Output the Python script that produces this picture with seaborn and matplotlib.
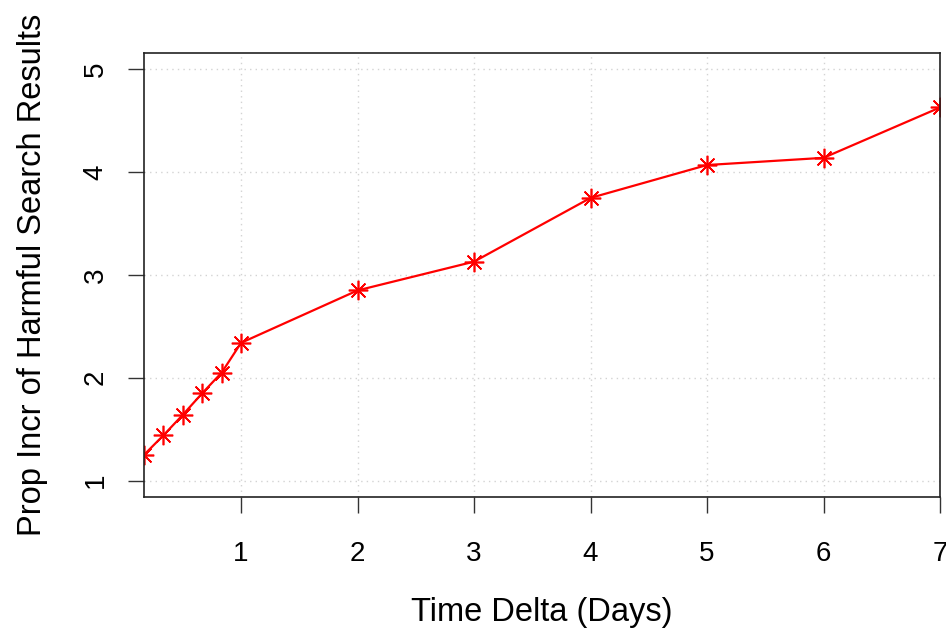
import matplotlib
matplotlib.use("Agg")
import matplotlib.pyplot as plt
import seaborn as sns
import pandas as pd

# Elapsed time since the reference snapshot, in hours
hours = [4, 8, 12, 16, 20, 24, 48, 72, 96, 120, 144, 168]
# Proportional increase of harmful search results at each time delta
prop_incr = [1.25, 1.44, 1.64, 1.85, 2.05, 2.34, 2.85, 3.13, 3.75, 4.07, 4.14, 4.63]

x_ticks = [1, 2, 3, 4, 5, 6, 7]
y_ticks = [1, 2, 3, 4, 5]

df = pd.DataFrame({"days": [h / 24 for h in hours], "incr": prop_incr})

sns.set_style("ticks")
plt.rcParams["font.family"] = ["Liberation Sans", "DejaVu Sans"]
plt.rcParams["text.color"] = "black"
plt.rcParams["axes.labelcolor"] = "black"

W, H = 946, 630
fig = plt.figure(figsize=(W / 100, H / 100), dpi=100)
ax = fig.add_axes([144 / W, 1 - 497 / H, (940 - 144) / W, (497 - 53) / H])

sns.lineplot(
    data=df, x="days", y="incr", ax=ax,
    color="red", linewidth=1.6,
    marker=(8, 2, 0), markersize=14,
    markeredgecolor="red", markeredgewidth=1.2,
    estimator=None, sort=True,
)

ax.set_xlim(df["days"].min(), 7)
ax.set_ylim(1 - 0.16, 5 + 0.16)
ax.set_xticks(x_ticks)
ax.set_yticks(y_ticks)
ax.set_xticklabels([str(v) for v in x_ticks])
ax.set_yticklabels([str(v) for v in y_ticks], rotation=90, va="center")

ax.grid(True, color="#d3d3d3", linestyle=(0, (1, 3)), linewidth=1.0)
ax.set_axisbelow(True)

for side in ["left", "right", "top", "bottom"]:
    ax.spines[side].set_visible(True)
    ax.spines[side].set_color("#222222")
    ax.spines[side].set_linewidth(1.2)

ax.tick_params(axis="both", direction="out", length=11.5, width=1.0,
               color="#333333", labelsize=20, labelcolor="black")
ax.tick_params(axis="x", pad=20)
ax.tick_params(axis="y", pad=14)

ax.set_xlabel("Time Delta (Days)", fontsize=23.5, va="center", color="black")
ax.set_ylabel("Prop Incr of Harmful Search Results", fontsize=23.5, va="center",
              color="black")
ax.xaxis.set_label_coords(0.5, (497 - 612) / (497 - 53))
ax.yaxis.set_label_coords((32 - 144) / (940 - 144), 0.5)

fig.savefig("out.png", dpi=100)
